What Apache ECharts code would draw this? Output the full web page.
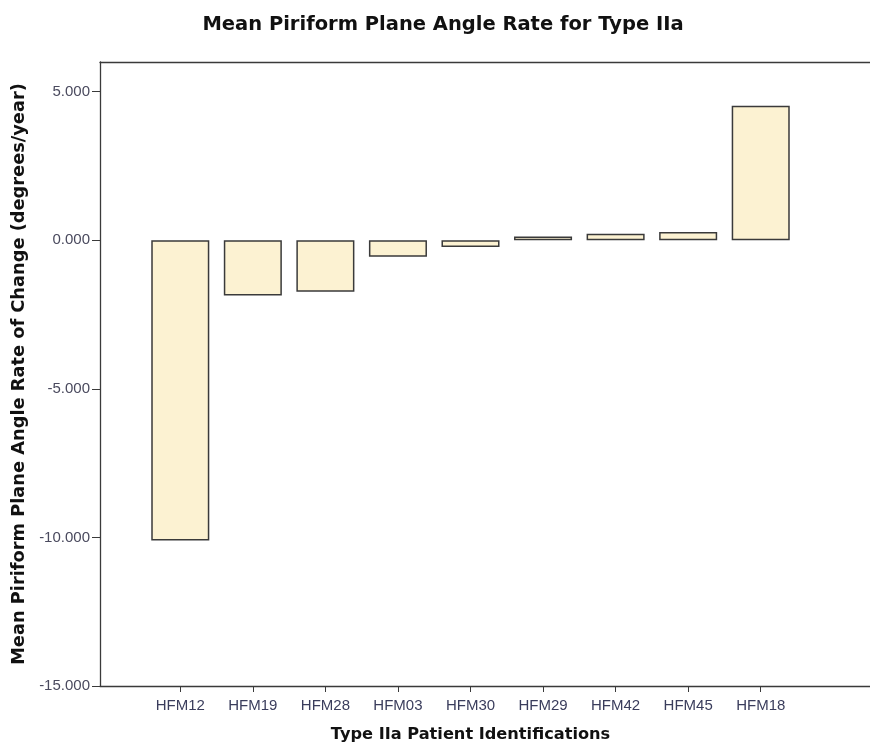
<!DOCTYPE html>
<html>
<head>
<meta charset="utf-8">
<title>Mean Piriform Plane Angle Rate for Type IIa</title>
<script src="https://cdn.jsdelivr.net/npm/echarts@6/dist/echarts.min.js"></script>
<style>
  html, body { margin: 0; padding: 0; background: #fff; }
  #chart { width: 870px; height: 748px; }
</style>
</head>
<body>
<div id="chart"></div>
<script>
// Patients (x categories) and their mean rate of change, degrees/year
const patients = ['HFM12', 'HFM19', 'HFM28', 'HFM03', 'HFM30', 'HFM29', 'HFM42', 'HFM45', 'HFM18'];
const meanRate = [-10.1, -1.86, -1.73, -0.55, -0.23, 0.13, 0.22, 0.28, 4.53];
const yTicks = [-15, -10, -5, 0, 5];

const LABEL_FONT = '"Liberation Sans", Arial, sans-serif';
const TITLE_FONT = '"DejaVu Sans", "Liberation Sans", sans-serif';
const Y_MIN = -15, Y_MAX = 6;
const LINE = '#3a3a3a';

const chart = echarts.init(document.getElementById('chart'), null, { renderer: 'canvas' });

chart.setOption({
  backgroundColor: '#ffffff',
  animation: false,
  title: {
    text: 'Mean Piriform Plane Angle Rate for Type IIa',
    left: 438,
    textAlign: 'center',
    top: 10,
    textStyle: { fontFamily: TITLE_FONT, fontSize: 19.5, fontWeight: 'bold', color: '#111' }
  },
  grid: [
    // outer frame carrying the value axis
    { left: 100, right: 0, top: 62, bottom: 62 },
    // inner band holding the categories
    { left: 144, right: 73, top: 62, bottom: 62 }
  ],
  xAxis: [
    {
      gridIndex: 0, type: 'value', min: 0, max: 1, position: 'bottom',
      axisLine: { show: true, onZero: false, lineStyle: { color: LINE, width: 1.3 } },
      axisTick: { show: false }, axisLabel: { show: false }, splitLine: { show: false }
    },
    {
      gridIndex: 0, type: 'value', min: 0, max: 1, position: 'top',
      axisLine: { show: true, onZero: false, lineStyle: { color: LINE, width: 1.3 } },
      axisTick: { show: false }, axisLabel: { show: false }, splitLine: { show: false }
    },
    {
      gridIndex: 1, type: 'category', data: patients, position: 'bottom',
      axisLine: { show: false, onZero: false },
      axisTick: { show: true, alignWithLabel: true, length: 6, lineStyle: { color: LINE } },
      axisLabel: { margin: 12, fontFamily: LABEL_FONT, fontSize: 15, color: '#3a3d5c' },
      name: 'Type IIa Patient Identifications',
      nameLocation: 'middle',
      nameGap: 41,
      nameTextStyle: { fontFamily: TITLE_FONT, fontSize: 16.2, fontWeight: 'bold', color: '#111' }
    }
  ],
  yAxis: [
    {
      gridIndex: 0, type: 'value', min: Y_MIN, max: Y_MAX,
      axisLine: { show: true, onZero: false, lineStyle: { color: LINE, width: 1.3 } },
      axisTick: { show: true, length: 8, customValues: yTicks, lineStyle: { color: LINE } },
      axisLabel: {
        customValues: yTicks, margin: 10,
        fontFamily: LABEL_FONT, fontSize: 15, color: '#4a4a5e',
        formatter: v => v.toFixed(3)
      },
      splitLine: { show: false },
      name: 'Mean Piriform Plane Angle Rate of Change (degrees/year)',
      nameLocation: 'middle',
      nameGap: 69,
      nameTextStyle: { fontFamily: TITLE_FONT, fontSize: 17.8, fontWeight: 'bold', color: '#111' }
    },
    {
      gridIndex: 1, type: 'value', min: Y_MIN, max: Y_MAX, show: false,
      splitLine: { show: false }
    }
  ],
  series: [{
    type: 'bar',
    xAxisIndex: 2, yAxisIndex: 1,
    data: meanRate,
    barWidth: '80%',
    itemStyle: {
      color: '#fcf2d2',
      borderColor: LINE,
      borderWidth: 1.5
    }
  }]
});
</script>
</body>
</html>
